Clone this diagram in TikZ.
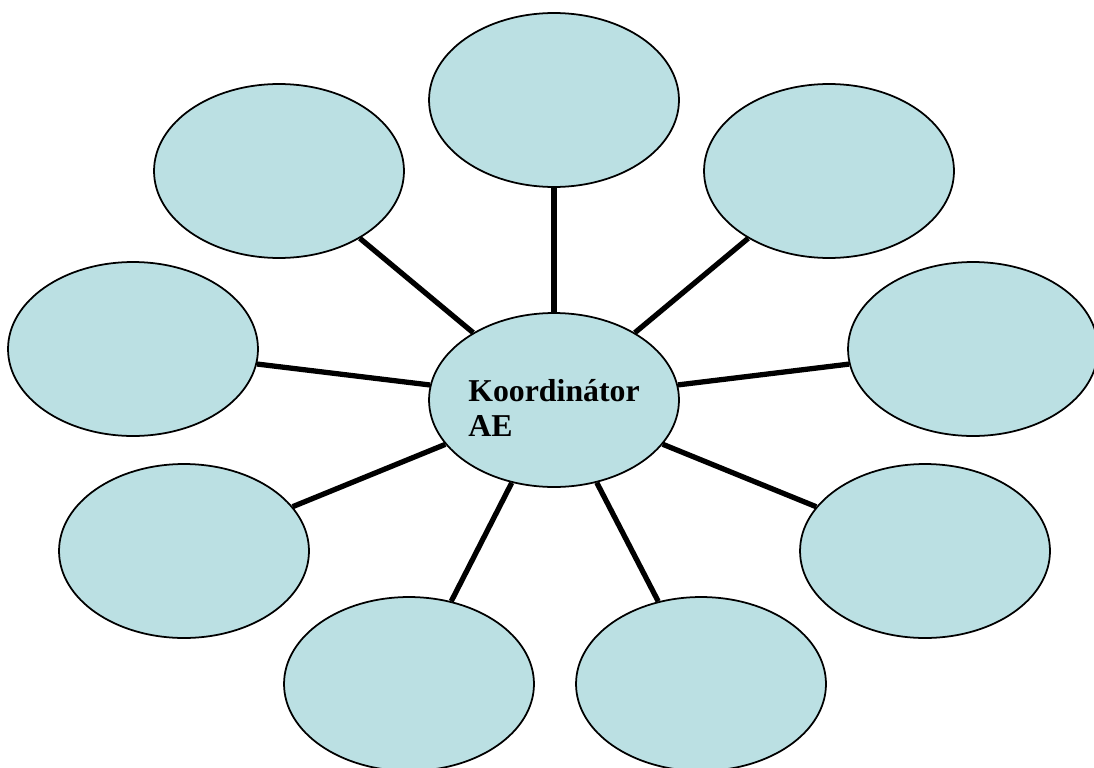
\documentclass[tikz,border=0pt]{standalone}
\usepackage{fontspec}
\setmainfont{Liberation Serif}
\usepackage{xcolor}
\usepackage{tikz}
\usetikzlibrary{positioning}
\usetikzlibrary{shapes.geometric}

\definecolor{bubblefill}{RGB}{187,224,227}

\begin{document}
\begin{tikzpicture}
                [x=0.02cm, y=-0.02cm,
                 bubble/.style = {ellipse, minimum width = 5cm, minimum height = 3.48cm, inner sep=0pt, draw, line width=1pt, fill=bubblefill},
                 spoke/.style = {line width=3pt},
                 title/.style = {align=left, inner sep=0pt, font=\bfseries\fontsize{18.1}{20.4}\selectfont}]
                \useasboundingbox (0,0) rectangle (1094,767);
                % Coordinator in the middle
                \node[bubble] (hub) at (554,400) {};
                \node[title]  (hubtext) at (554,408) {Koordinátor\\AE};
                % Surrounding bubbles
                \node[bubble] (n)  at (554,100) {};
                \node[bubble] (nw) at (279,171) {};
                \node[bubble] (ne) at (829,171) {};
                \node[bubble] (w)  at (133,349) {};
                \node[bubble] (e)  at (973,349) {};
                \node[bubble] (sw) at (184,551) {};
                \node[bubble] (se) at (925,551) {};
                \node[bubble] (bl) at (409,684) {};
                \node[bubble] (br) at (701,684) {};

                % Lines
                \path[spoke] (hub) edge (n);
                \path[spoke] (hub) edge (nw);
                \path[spoke] (hub) edge (ne);
                \path[spoke] (hub) edge (w);
                \path[spoke] (hub) edge (e);
                \path[spoke] (hub) edge (sw);
                \path[spoke] (hub) edge (se);
                \path[spoke] (hub) edge (bl);
                \path[spoke] (hub) edge (br);
            \end{tikzpicture}
\end{document}
